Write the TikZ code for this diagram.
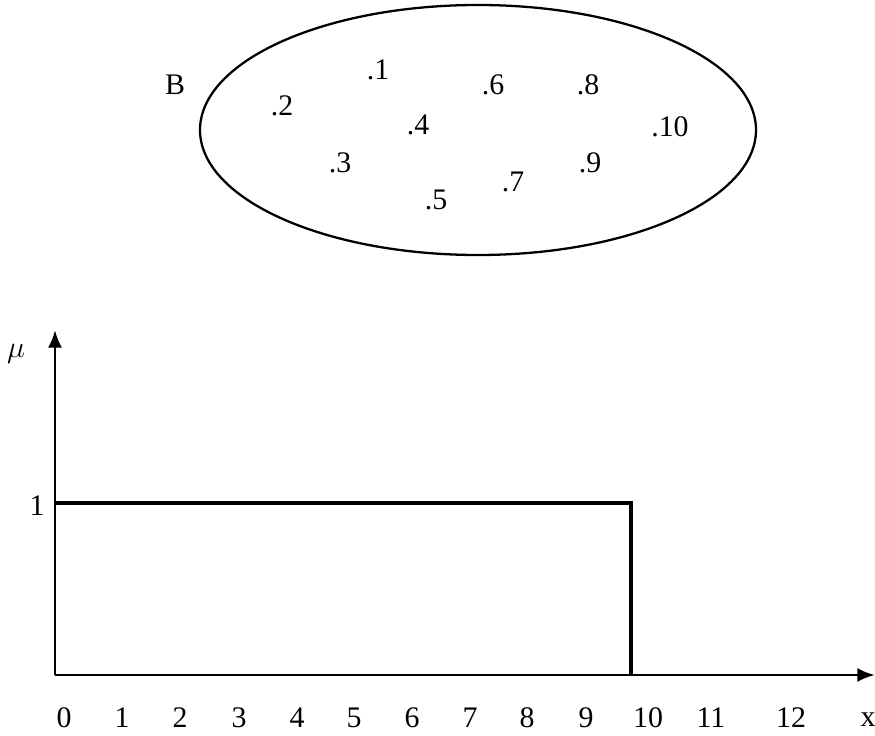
\documentclass[tikz,border=0pt]{standalone}
\usepackage{fontspec}
\setmainfont{Liberation Serif}
\usetikzlibrary{arrows.meta}

\begin{document}
\begin{tikzpicture}[
    x=0.02cm, y=-0.02cm,
    >={Latex[length=10pt,width=8pt]},
    % Styles for the parts
    setline/.style={draw=black, line width=1.3pt},
    axis/.style={draw=black, line width=1.7pt, ->},
    member/.style={inner sep=0pt, font=\fontsize{17}{20}\selectfont},
    tick/.style={inner sep=0pt, font=\fontsize{17}{20}\selectfont},
    curve/.style={draw=black, line width=2pt}
]
    \useasboundingbox (0,0) rectangle (875,736);

    % =========================================================================
    % 1. THE CRISP SET B
    % =========================================================================
    \draw[setline] (478,130) ellipse (278 and 125);
    \node[member] (setB) at (175,85) {B};

    % Elements of the set
    \foreach \name/\px/\py/\txt in {e1/378/70/.1, e2/282/106/.2, e3/340/163/.3,
        e4/418/125/.4, e5/436/200/.5, e6/493/85/.6, e7/513/182/.7,
        e8/588/85/.8, e9/590/163/.9, e10/670/127/.10}
        \node[member] (\name) at (\px,\py) {\txt};

    % =========================================================================
    % 2. THE AXES
    % =========================================================================
    \coordinate (origin) at (55,675);
    \coordinate (ytop) at (55,330);
    \coordinate (xend) at (875,675);
    \draw[axis] (origin) -- (ytop);
    \draw[axis] (origin) -- (xend);

    \node[tick] (mu) at (16,354) {\fontsize{19}{22}\selectfont$\mu$};
    \node[tick] (one) at (37,506) {1};

    % Tick labels on the x axis
    \foreach \n/\px in {0/64, 1/122, 2/180, 3/239, 4/297, 5/354, 6/412,
        7/470, 8/527, 9/586, 10/648, 11/711, 12/791}
        \node[tick] (x\n) at (\px,718) {\n};
    \node[tick] (xlabel) at (868,720) {x};

    % =========================================================================
    % 3. THE MEMBERSHIP FUNCTION
    % =========================================================================
    \coordinate (topleft) at (55,503);
    \coordinate (topright) at (631,503);
    \coordinate (footright) at (631,675);
    \draw[curve] (topleft) -- (topright) -- (footright);

\end{tikzpicture}
\end{document}
